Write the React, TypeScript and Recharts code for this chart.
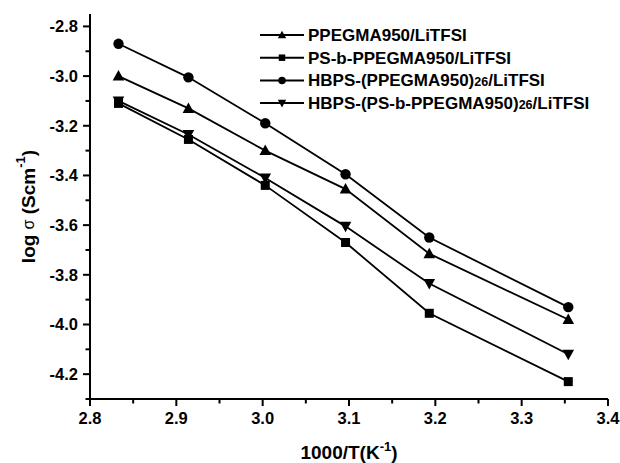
import React from 'react';
import { LineChart, Line, XAxis, YAxis, Legend } from 'recharts';

// 1000/T values (same temperatures for every sample)
const invTemp = [2.833, 2.914, 3.003, 3.096, 3.193, 3.354];

// log sigma for each sample
const ppegma = [-3.0, -3.13, -3.3, -3.455, -3.715, -3.98];
const psbPpegma = [-3.11, -3.255, -3.44, -3.67, -3.955, -4.23];
const hbpsPpegma = [-2.87, -3.005, -3.19, -3.395, -3.65, -3.93];
const hbpsPsb = [-3.1, -3.235, -3.41, -3.605, -3.835, -4.12];

const xTicks = [2.8, 2.85, 2.9, 2.95, 3.0, 3.05, 3.1, 3.15, 3.2, 3.25, 3.3, 3.35, 3.4];
const yTicks = [-4.3, -4.2, -4.1, -4.0, -3.9, -3.8, -3.7, -3.6, -3.5, -3.4, -3.3, -3.2, -3.1, -3.0, -2.9, -2.8];

const data = invTemp.map((x, i) => ({
  x,
  a: ppegma[i],
  b: psbPpegma[i],
  c: hbpsPpegma[i],
  d: hbpsPsb[i],
}));

const FONT = '"Liberation Sans", Arial, sans-serif';

// forme des marqueurs
const Marker = ({ kind, cx, cy, s = 1 }: { kind: string; cx: number; cy: number; s?: number }) => {
  if (kind === 'circle') return <circle cx={cx} cy={cy} r={5.2 * s} fill="#000" />;
  if (kind === 'square')
    return <rect x={cx - 4.5 * s} y={cy - 4.5 * s} width={9 * s} height={9 * s} fill="#000" />;
  if (kind === 'up')
    return (
      <polygon
        points={`${cx},${cy - 6 * s} ${cx + 5.8 * s},${cy + 4.5 * s} ${cx - 5.8 * s},${cy + 4.5 * s}`}
        fill="#000"
      />
    );
  return (
    <polygon
      points={`${cx},${cy + 6 * s} ${cx + 5.8 * s},${cy - 4.5 * s} ${cx - 5.8 * s},${cy - 4.5 * s}`}
      fill="#000"
    />
  );
};

const dotOf = (kind: string) => (props: any) => (
  <Marker key={`${kind}-${props.index}`} kind={kind} cx={props.cx} cy={props.cy} />
);

const isMajor = (v: number, step: number) => Math.abs(Math.round(v / step) - v / step) < 1e-6;

const YTick = ({ x, y, payload }: any) => {
  const major = isMajor(payload.value, 0.2);
  return (
    <g>
      <line x1={x} x2={x - (major ? 7 : 4.5)} y1={y} y2={y} stroke="#000" strokeWidth={2} />
      {major && payload.value > -4.29 && (
        <text x={x - 12} y={y + 6} textAnchor="end" fontFamily={FONT} fontWeight="bold" fontSize={16.5} fill="#000">
          {payload.value.toFixed(1)}
        </text>
      )}
    </g>
  );
};

const XTick = ({ x, y, payload }: any) => {
  const major = isMajor(payload.value, 0.1);
  return (
    <g>
      <line x1={x} x2={x} y1={y} y2={y + (major ? 7 : 4.5)} stroke="#000" strokeWidth={2} />
      {major && (
        <text x={x} y={y + 25} textAnchor="middle" fontFamily={FONT} fontWeight="bold" fontSize={16.5} fill="#000">
          {payload.value.toFixed(1)}
        </text>
      )}
    </g>
  );
};

const legendItems = [
  { kind: 'up', parts: [['PPEGMA950/LiTFSI', false]] },
  { kind: 'square', parts: [['PS-b-PPEGMA950/LiTFSI', false]] },
  { kind: 'circle', parts: [['HBPS-(PPEGMA950)', false], ['26', true], ['/LiTFSI', false]] },
  { kind: 'down', parts: [['HBPS-(PS-b-PPEGMA950)', false], ['26', true], ['/LiTFSI', false]] },
];

const LegendBox = () => (
  <svg width={360} height={100}>
    {legendItems.map((it, i) => {
      const cy = 12 + i * 22.7;
      return (
        <g key={i}>
          <line x1={4} x2={48} y1={cy} y2={cy} stroke="#000" strokeWidth={2} />
          <Marker kind={it.kind} cx={26} cy={cy} s={0.72} />
          <text x={52} y={cy + 6} fontFamily={FONT} fontWeight="bold" fontSize={17} fill="#000">
            {it.parts.map(([t, sub], j) => (
              <tspan key={j} fontSize={sub ? 12.5 : 17}>
                {t as string}
              </tspan>
            ))}
          </text>
        </g>
      );
    })}
  </svg>
);

const YLabel = ({ viewBox }: any) => {
  const cx = 28;
  const cy = viewBox.y + viewBox.height / 2;
  return (
    <text
      x={cx}
      y={cy}
      transform={`rotate(-90 ${cx} ${cy})`}
      textAnchor="middle"
      dominantBaseline="central"
      fontFamily={FONT}
      fontWeight="bold"
      fontSize={19}
      fill="#000"
    >
      log <tspan fontWeight="normal" fontSize={16}>σ</tspan> (Scm
      <tspan dy={-8} fontSize={13}>-1</tspan>
      <tspan dy={8}>)</tspan>
    </text>
  );
};

const XLabel = ({ viewBox }: any) => (
  <text
    x={viewBox.x + viewBox.width / 2}
    y={viewBox.y + 60}
    textAnchor="middle"
    fontFamily={FONT}
    fontWeight="bold"
    fontSize={19}
    fill="#000"
  >
    1000/T(K<tspan dy={-8} fontSize={13}>-1</tspan>
    <tspan dy={8}>)</tspan>
  </text>
);

export default function App() {
  return (
    <div style={{ position: 'absolute', left: 0, top: 0, background: '#fff' }}>
      <LineChart width={620} height={463} data={data} margin={{ top: 14, right: 12, bottom: 0, left: 0 }}>
        <XAxis
          dataKey="x"
          type="number"
          domain={[2.8, 3.4]}
          ticks={xTicks}
          interval={0}
          height={64}
          tickSize={0}
          tickMargin={0}
          tickLine={false}
          axisLine={{ stroke: '#000', strokeWidth: 2 }}
          tick={<XTick />}
          label={<XLabel />}
        />
        <XAxis
          xAxisId="top"
          orientation="top"
          type="number"
          domain={[2.8, 3.4]}
          height={0}
          tick={false}
          tickLine={false}
          axisLine={{ stroke: '#000', strokeWidth: 2 }}
        />
        <YAxis
          type="number"
          domain={[-4.3, -2.75]}
          ticks={yTicks}
          interval={0}
          width={90}
          tickSize={0}
          tickMargin={0}
          tickLine={false}
          axisLine={{ stroke: '#000', strokeWidth: 2 }}
          tick={<YTick />}
          label={<YLabel />}
        />
        <YAxis
          yAxisId="right"
          orientation="right"
          type="number"
          domain={[-4.3, -2.75]}
          width={0}
          tick={false}
          tickLine={false}
          axisLine={{ stroke: '#000', strokeWidth: 2 }}
        />
        <Legend
          layout="vertical"
          align="center"
          verticalAlign="middle"
          content={<LegendBox />}
          wrapperStyle={{ left: 256, top: 23, width: 360, height: 100 }}
        />
        <Line dataKey="a" stroke="#000" strokeWidth={1.8} dot={dotOf('up')} isAnimationActive={false} />
        <Line dataKey="b" stroke="#000" strokeWidth={1.8} dot={dotOf('square')} isAnimationActive={false} />
        <Line dataKey="c" stroke="#000" strokeWidth={1.8} dot={dotOf('circle')} isAnimationActive={false} />
        <Line dataKey="d" stroke="#000" strokeWidth={1.8} dot={dotOf('down')} isAnimationActive={false} />
      </LineChart>
    </div>
  );
}
